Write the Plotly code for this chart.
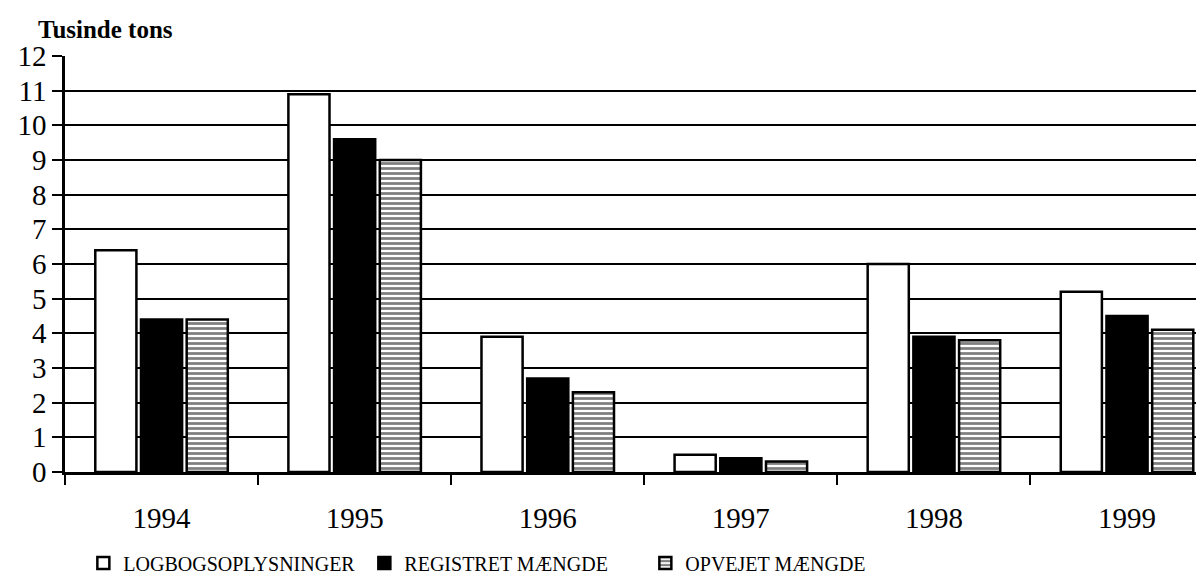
import plotly.graph_objects as go

years = ["1994", "1995", "1996", "1997", "1998", "1999"]
logbog = [6.4, 10.9, 3.9, 0.5, 6.0, 5.2]
registreret = [4.4, 9.6, 2.7, 0.4, 3.9, 4.5]
opvejet = [4.4, 9.0, 2.3, 0.3, 3.8, 4.1]
y_ticks = list(range(0, 13))

FONT = "Times New Roman, Liberation Serif, serif"

fig = go.Figure()
fig.add_trace(go.Bar(x=years, y=logbog, name="LOGBOGSOPLYSNINGER",
                     marker=dict(color="white", line=dict(color="black", width=2.5))))
fig.add_trace(go.Bar(x=years, y=registreret, name="REGISTRET MÆNGDE",
                     marker=dict(color="black", line=dict(color="black", width=2.5))))
fig.add_trace(go.Bar(x=years, y=opvejet, name="OPVEJET MÆNGDE",
                     marker=dict(color="white", line=dict(color="black", width=2.5),
                                 pattern=dict(shape="-", fgcolor="black", bgcolor="white",
                                              size=5, solidity=0.55))))

fig.update_layout(
    width=1204, height=584,
    margin=dict(l=57, r=0, t=48, b=120),
    paper_bgcolor="white", plot_bgcolor="white",
    barmode="group", bargap=0.29, bargroupgap=0.1,
    font=dict(family=FONT, color="black", size=29),
    showlegend=True,
    legend=dict(orientation="h", x=0.016, y=-0.219, xanchor="left", yanchor="middle",
                font=dict(family=FONT, size=20, color="black"),
                entrywidth=236, entrywidthmode="pixels",
                itemwidth=30, tracegroupgap=0),
    annotations=[dict(text="<b>Tusinde tons</b>", xref="paper", yref="paper",
                      x=-0.025, y=1.063, xanchor="left", yanchor="middle",
                      showarrow=False, font=dict(family=FONT, size=25, color="black"))],
)
fig.update_xaxes(type="category", range=[-0.5, 5.44], showgrid=False,
                 ticks="outside", tickson="boundaries", ticklen=10, tickwidth=1.5,
                 tickcolor="black", showline=True, linecolor="black", linewidth=2.5,
                 ticklabelstandoff=18,
                 tickfont=dict(family=FONT, size=29, color="black"))
fig.update_yaxes(range=[0, 12], tickvals=y_ticks, showgrid=True, gridcolor="black",
                 gridwidth=2, ticks="outside", ticklen=10, tickwidth=2, tickcolor="black",
                 showline=True, linecolor="black", linewidth=2.5, zeroline=False,
                 tickfont=dict(family=FONT, size=29, color="black"))

fig.write_html("out.html")
